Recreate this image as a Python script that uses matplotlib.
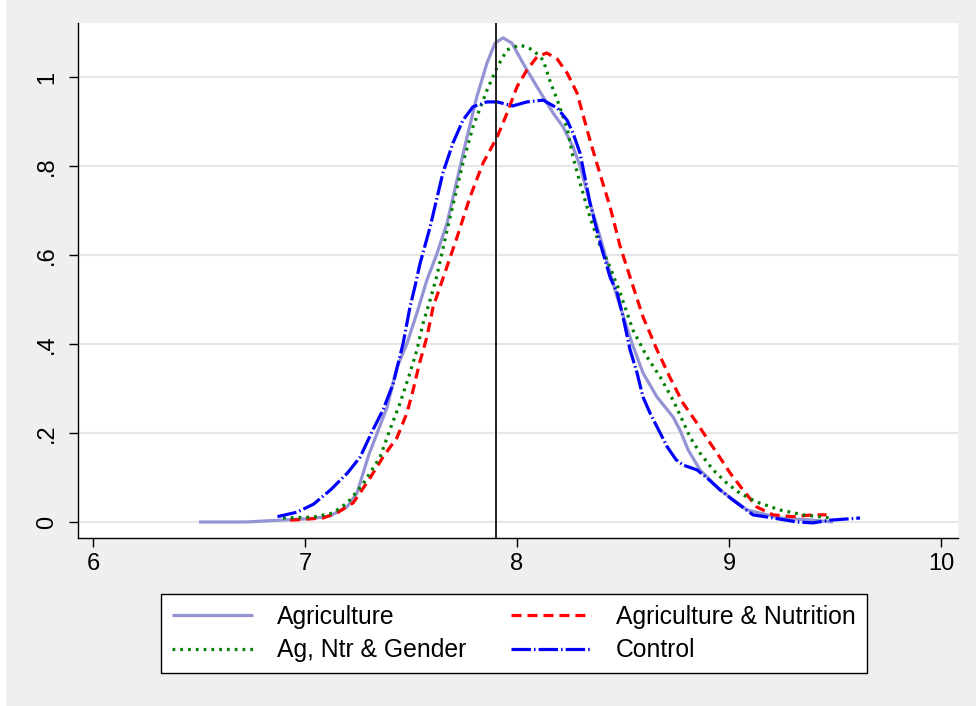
import matplotlib
matplotlib.use("Agg")
import matplotlib.pyplot as plt
from matplotlib.patches import Rectangle

plt.rcParams['font.family'] = ['Liberation Sans', 'DejaVu Sans']
plt.rcParams['lines.scale_dashes'] = False

# ---- data ----
agri_x = [6.50, 6.72, 6.88, 7.04, 7.12, 7.20, 7.245, 7.30, 7.387, 7.434, 7.48, 7.528, 7.575, 7.62,
          7.67, 7.717, 7.764, 7.81, 7.858, 7.896, 7.934, 7.976, 8.028, 8.094, 8.17, 8.217, 8.264,
          8.297, 8.344, 8.392, 8.439, 8.472, 8.542, 8.594, 8.66, 8.736, 8.77, 8.807, 8.863, 8.958,
          9.085, 9.24, 9.396, 9.49]
agri_y = [0.0, 0.0, 0.004, 0.008, 0.014, 0.035, 0.065, 0.15, 0.258, 0.348, 0.40, 0.47, 0.544, 0.60,
          0.672, 0.769, 0.865, 0.955, 1.031, 1.076, 1.088, 1.076, 1.031, 0.978, 0.919, 0.888, 0.843,
          0.80, 0.717, 0.64, 0.56, 0.506, 0.402, 0.335, 0.281, 0.236, 0.205, 0.162, 0.117, 0.072,
          0.027, 0.009, 0.004, 0.0]

nutr_x = [6.93, 7.085, 7.15, 7.227, 7.30, 7.368, 7.434, 7.48, 7.51, 7.54, 7.575, 7.604, 7.651, 7.717,
          7.778, 7.84, 7.906, 7.953, 8.0, 8.047, 8.094, 8.14, 8.19, 8.236, 8.283, 8.344, 8.39, 8.439,
          8.486, 8.54, 8.594, 8.66, 8.72, 8.783, 8.849, 8.91, 8.943, 9.005, 9.066, 9.13, 9.208, 9.30,
          9.396, 9.46]
nutr_y = [0.004, 0.009, 0.02, 0.043, 0.094, 0.146, 0.19, 0.244, 0.297, 0.357, 0.416, 0.483, 0.548, 0.64,
          0.73, 0.807, 0.865, 0.919, 0.978, 1.016, 1.045, 1.054, 1.04, 1.009, 0.964, 0.858, 0.784, 0.708,
          0.62, 0.54, 0.461, 0.387, 0.326, 0.267, 0.222, 0.178, 0.155, 0.11, 0.072, 0.034, 0.016, 0.012,
          0.016, 0.016]

gend_x = [6.896, 7.04, 7.13, 7.20, 7.27, 7.354, 7.40, 7.448, 7.495, 7.528, 7.557, 7.59, 7.62, 7.684,
          7.745, 7.792, 7.858, 7.906, 7.953, 8.014, 8.075, 8.123, 8.156, 8.19, 8.236, 8.264, 8.297,
          8.344, 8.392, 8.425, 8.486, 8.547, 8.613, 8.675, 8.736, 8.769, 8.816, 8.863, 8.925, 8.99,
          9.05, 9.13, 9.24, 9.35, 9.476]
gend_y = [0.009, 0.011, 0.02, 0.043, 0.083, 0.146, 0.207, 0.267, 0.335, 0.387, 0.447, 0.499, 0.55, 0.685,
          0.807, 0.888, 0.97, 1.022, 1.061, 1.072, 1.061, 1.038, 0.99, 0.948, 0.885, 0.82, 0.762,
          0.685, 0.62, 0.589, 0.515, 0.431, 0.371, 0.326, 0.274, 0.24, 0.191, 0.155, 0.117, 0.087,
          0.065, 0.045, 0.027, 0.016, 0.009]

ctrl_x = [6.87, 6.962, 7.04, 7.12, 7.20, 7.26, 7.32, 7.368, 7.415, 7.462, 7.495, 7.519, 7.542, 7.59,
          7.65, 7.698, 7.745, 7.792, 7.858, 7.906, 7.98, 8.047, 8.123, 8.19, 8.236, 8.264, 8.297,
          8.344, 8.392, 8.439, 8.472, 8.5, 8.533, 8.566, 8.594, 8.627, 8.675, 8.708, 8.75, 8.783,
          8.849, 8.896, 8.958, 9.019, 9.113, 9.208, 9.32, 9.396, 9.476, 9.618]
ctrl_y = [0.012, 0.022, 0.04, 0.072, 0.11, 0.146, 0.207, 0.252, 0.31, 0.40, 0.483, 0.53, 0.58, 0.663,
          0.784, 0.852, 0.903, 0.933, 0.944, 0.944, 0.935, 0.944, 0.948, 0.93, 0.903, 0.874, 0.829,
          0.717, 0.627, 0.55, 0.515, 0.461, 0.387, 0.335, 0.281, 0.245, 0.2, 0.169, 0.14, 0.128,
          0.117, 0.099, 0.072, 0.049, 0.016, 0.009, 0.0, -0.002, 0.004, 0.009]

series_labels = ["Agriculture", "Agriculture & Nutrition", "Ag, Ntr & Gender", "Control"]
ref_x = 7.9
x_ticks = [6, 7, 8, 9, 10]
y_ticks = [0, 0.2, 0.4, 0.6, 0.8, 1.0]
y_tick_labels = ["0", ".2", ".4", ".6", ".8", "1"]

# ---- figure ----
W, H = 976, 706
fig = plt.figure(figsize=(W / 100, H / 100), dpi=100, facecolor='#EFEFEF')
fig.patches.append(Rectangle((0, 0), 6 / W, 1, transform=fig.transFigure,
                             facecolor='white', edgecolor='none', zorder=-1))

ax = fig.add_axes([78 / W, 1 - 538 / H, 880 / W, (538 - 23) / H])
ax.set_facecolor('white')
ax.set_xlim(5.929, 10.080)
ax.set_ylim(-0.036, 1.1213)

for s in ['top', 'right']:
    ax.spines[s].set_visible(False)
for s in ['left', 'bottom']:
    ax.spines[s].set_color('black')
    ax.spines[s].set_linewidth(1.0)

ax.set_yticks(y_ticks, labels=y_tick_labels)
ax.set_xticks(x_ticks, labels=[str(v) for v in x_ticks])
ax.tick_params(axis='both', direction='out', length=6.5, width=1.0, color='black',
               labelsize=17, labelcolor='black')
ax.tick_params(axis='y', pad=8)
ax.tick_params(axis='x', pad=4)
for lab in ax.get_yticklabels():
    lab.set_rotation(90)
    lab.set_va('center')
ax.yaxis.grid(True, color='#E6E6E6', linewidth=1.5)
ax.xaxis.grid(False)
ax.set_axisbelow(True)

lw = 2.3
ax.plot(agri_x, agri_y, color='#9494D4', lw=lw, solid_capstyle='butt', label=series_labels[0])
l2, = ax.plot(nutr_x, nutr_y, color='#FF0000', lw=lw, label=series_labels[1])
l2.set_dashes((7.2, 4.3))
l2.set_dash_capstyle('butt')
l3, = ax.plot(gend_x, gend_y, color='#008000', lw=lw, label=series_labels[2])
l3.set_dashes((2.0, 3.6))
l3.set_dash_capstyle('butt')
l4, = ax.plot(ctrl_x, ctrl_y, color='#0000FF', lw=lw, label=series_labels[3])
l4.set_dashes((14.0, 2.2, 1.1, 2.2))
l4.set_dash_capstyle('butt')

ax.axvline(ref_x, color='#222222', lw=1.4, zorder=5)

handles, labels = ax.get_legend_handles_labels()
order = [0, 2, 1, 3]
fs = 17.8
leg = fig.legend([handles[i] for i in order], [labels[i] for i in order],
                 loc='center', bbox_to_anchor=((158 + 870) / 2 / W, 1 - (594 + 673) / 2 / H),
                 ncol=2, fontsize=fs, frameon=True, fancybox=False,
                 edgecolor='black', framealpha=1, handlelength=3.24, handletextpad=1.0,
                 borderpad=0.45, labelspacing=0.38, columnspacing=1.8, borderaxespad=0)
leg.get_frame().set_linewidth(1.0)

fig.savefig('out.png', dpi=100, facecolor=fig.get_facecolor())
